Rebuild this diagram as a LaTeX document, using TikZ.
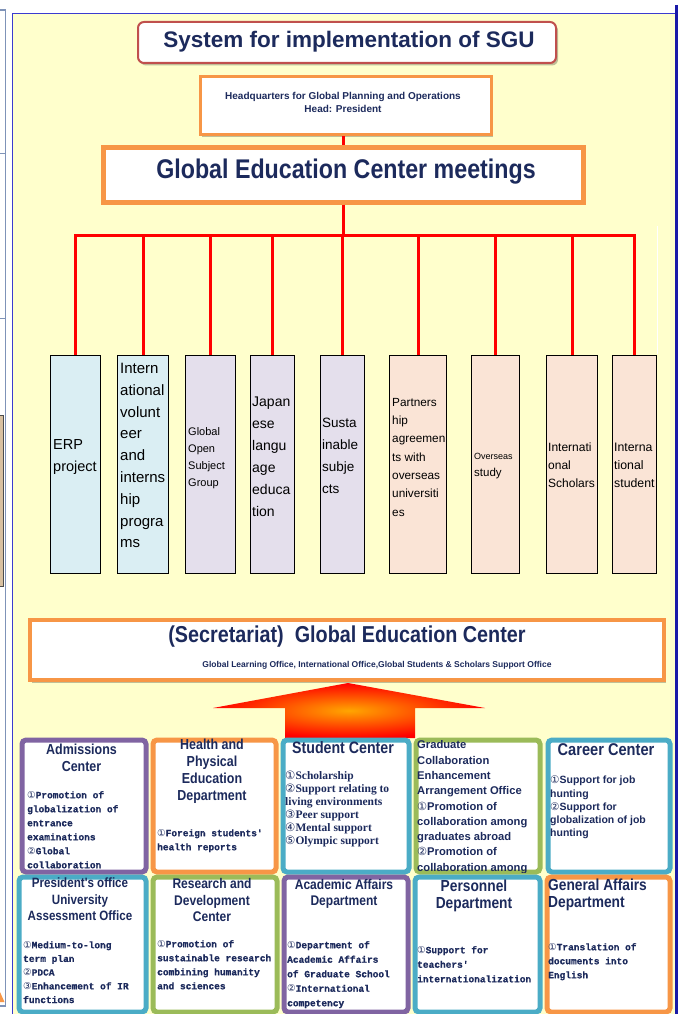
\documentclass[tikz,border=0pt]{standalone}
\usepackage{fontspec}
\setmainfont{Liberation Sans}
\newfontfamily\condsans[FakeStretch=0.86]{Liberation Sans}
\newfontfamily\monob[FakeBold=0.8]{Liberation Mono}
\newfontfamily\serifb{Liberation Serif}
\newfontfamily\symf{DejaVu Sans}
\usetikzlibrary{shadows,calc}

\definecolor{navy}{HTML}{1C2A5C}
\definecolor{panel}{HTML}{FFFFCC}
\definecolor{borange}{HTML}{F79646}
\definecolor{bpurple}{HTML}{8064A2}
\definecolor{bteal}{HTML}{4BACC6}
\definecolor{bgreen}{HTML}{9BBB59}
\definecolor{titlered}{HTML}{C0504D}
\definecolor{fillblue}{HTML}{DAEEF3}
\definecolor{filllav}{HTML}{E4DFEC}
\definecolor{fillpeach}{HTML}{FAE4D6}
\definecolor{frameblue}{HTML}{3B3BD0}
\definecolor{framenavy}{HTML}{1A1AA8}
\definecolor{stripgrey}{HTML}{7F93B8}
\definecolor{striptan}{HTML}{D8C0A0}

\newcommand\colf[2]{\fontsize{#1}{#2}\selectfont}
\newcommand\tfont[2]{\condsans\bfseries\fontsize{#1}{#2}\selectfont}
\newcommand\mfont[2]{\monob\bfseries\fontsize{#1}{#2}\selectfont}
\newcommand\cnum[1]{{\symf\mdseries #1}}

\begin{document}
\begin{tikzpicture}[x=1pt,y=-1pt,
  redline/.style={draw=red, line width=3pt},
  colbox/.style={draw=black, line width=1.3pt, anchor=north west, inner sep=0pt, minimum height=218},
  coltext/.style={anchor=north west, align=left, inner sep=0pt, text=black},
  unitbox/.style={draw=#1, line width=5pt, rounded corners=4pt, fill=white, anchor=north west, inner sep=0pt},
  ttl/.style={inner sep=0pt, text=navy, align=center, anchor=north},
  body/.style={inner sep=0pt, text=navy, align=left, anchor=north west},
  softshadow/.style={drop shadow={shadow xshift=2pt, shadow yshift=-2.5pt, fill=black, opacity=0.25}},
]
\useasboundingbox (0,0) rectangle (680,1014);
\fill[white] (0,0) rectangle (680,1014);

% neighbouring panel edge on the left
\draw[stripgrey, line width=1.5pt] (0,10) -- (5.5,10) -- (5.5,1006) -- (0,1006);
\draw[stripgrey, line width=0.8pt] (0,153) -- (5.5,153) (0,318) -- (5.5,318);
\filldraw[fill=striptan, draw=black!70, line width=0.8pt] (-1,415) rectangle (3,586);
\fill[borange] (0,992) -- (4.5,1002) -- (0,1002) -- cycle;

% yellow panel
\fill[panel] (12,14) rectangle (675,1014);
\draw[frameblue, line width=1pt] (12,1014) -- (12,14) -- (675,14);
\draw[framenavy, line width=2.2pt] (676.5,5) -- (676.5,1014);
\draw[white, line width=1pt] (657,226) -- (657,354);

% heading
\node[draw=titlered, line width=2pt, rounded corners=6pt, fill=white, anchor=north west,
      minimum width=418, minimum height=41, inner sep=0pt, softshadow] (title) at (137,21) {};
\node[text=navy, font=\bfseries\fontsize{22.5}{26}\selectfont, inner sep=0pt] (titlet) at (349,42) {System for implementation of SGU};

% headquarters
\node[draw=borange, line width=3pt, fill=white, anchor=north west, minimum width=291, minimum height=58,
      inner sep=0pt, softshadow] (hq) at (198.5,75.5) {};
\node[text=navy, font=\bfseries\fontsize{10}{13}\selectfont, align=center, inner sep=0pt, anchor=north] (hqt) at (343,92.5)
  {Headquarters for Global Planning and Operations\\Head: President};

% meetings
\node[draw=borange, line width=5pt, fill=white, anchor=north west, minimum width=480, minimum height=55,
      inner sep=0pt, softshadow] (gec) at (100.5,144.5) {};
\node[text=navy, font=\tfont{27}{30}, inner sep=0pt] (gect) at (346,172) {Global Education Center meetings};

% project columns
\node[colbox, fill=fillblue, minimum width=50] (erp)  at (50,355) {};
\node[colbox, fill=fillblue, minimum width=51] (ivol) at (117,355) {};
\node[colbox, fill=filllav,  minimum width=50] (gos)  at (185,355) {};
\node[colbox, fill=filllav,  minimum width=44] (jle)  at (250,355) {};
\node[colbox, fill=filllav,  minimum width=44] (sus)  at (320,355) {};
\node[colbox, fill=fillpeach, minimum width=57] (pau) at (389,355) {};
\node[colbox, fill=fillpeach, minimum width=48] (ovs) at (471,355) {};
\node[colbox, fill=fillpeach, minimum width=51] (isch) at (546,355) {};
\node[colbox, fill=fillpeach, minimum width=44] (istu) at (612,355) {};

% red connectors
\coordinate (bar) at (343,235);
\draw[redline] (hq.south -| bar) -- (gec.north -| bar);
\draw[redline] (gec.south -| bar) -- (bar);
\draw[redline, line cap=rect] (erp.north |- bar) -- (istu.north |- bar);
\foreach \b in {erp,ivol,gos,jle,sus,pau,ovs,isch,istu}
  \draw[redline] (\b.north |- bar) -- (\b.north);

% column labels
\node[coltext, font=\colf{14.5}{22}] (erpt) at (53,439) {ERP\\project};
\node[coltext, font=\colf{15}{21.8}] (ivolt) at (120,363) {Intern\\ational\\volunt\\eer\\and\\interns\\hip\\progra\\ms};
\node[coltext, font=\colf{11}{17}] (gost) at (188,427.6) {Global\\Open\\Subject\\Group};
\node[coltext, font=\colf{14}{22}] (jlet) at (252,396.4) {Japan\\ese\\langu\\age\\educa\\tion};
\node[coltext, font=\colf{13.5}{22}] (sust) at (322,417.6) {Susta\\inable\\subje\\cts};
\node[coltext, font=\colf{11.8}{18.3}] (paut) at (392,398) {Partners\\hip\\agreemen\\ts with\\overseas\\universiti\\es};
\node[coltext, font=\colf{9}{11}] (ovsa) at (474,453.4) {Overseas};
\node[coltext, font=\colf{11.5}{14}] (ovsb) at (474,468.4) {study};
\node[coltext, font=\colf{12}{18}] (ischt) at (548,443) {Internati\\onal\\Scholars};
\node[coltext, font=\colf{12.3}{18}] (istut) at (614,443) {Interna\\tional\\student};

% secretariat
\node[draw=borange, line width=4pt, fill=white, anchor=north west, minimum width=634, minimum height=60,
      inner sep=0pt, softshadow] (sec) at (28,618) {};
\node[text=navy, font=\tfont{23}{26}, inner sep=0pt] (sect) at (347,637) {(Secretariat)\ \ Global Education Center};
\node[text=navy, font=\bfseries\fontsize{8.5}{10}\selectfont, inner sep=0pt] (secs) at (377,665)
  {Global Learning Office, International Office,Global Students \& Scholars Support Office};

% upward arrow
\shade[inner color=orange!70!yellow, outer color=red]
  (348,683) -- (485,708) -- (415,708) -- (415,738) -- (285,738) -- (285,708) -- (213,708) -- cycle;

% first row of units
\node[unitbox=bpurple, minimum width=124, minimum height=132] (adm) at (19.5,737.5) {};
\node[unitbox=borange, minimum width=123, minimum height=132] (hpe) at (150.5,737.5) {};
\node[unitbox=bteal,   minimum width=126, minimum height=132] (stc) at (280.5,737.5) {};
\node[unitbox=bgreen,  minimum width=124, minimum height=132] (gce) at (413.5,737.5) {};
\node[unitbox=bteal,   minimum width=122, minimum height=132] (car) at (545.5,737.5) {};

\node[ttl, font=\tfont{14.5}{17}] (admt) at (81.5,744.2) {Admissions\\Center};
\begin{scope}
  \clip ($(adm.north west)+(2.5,2.5)$) rectangle ($(adm.south east)+(-2.5,-2.5)$);
  \node[body, font=\mfont{9.5}{14}] (admb) at (27,791)
    {\cnum{①}Promotion of\\globalization of\\entrance\\examinations\\\cnum{②}Global\\collaboration};
\end{scope}

\node[ttl, font=\tfont{14.5}{17}] (hpet) at (212,739.2) {Health and\\Physical\\Education\\Department};
\node[body, font=\mfont{9.5}{14}] (hpeb) at (157,829) {\cnum{①}Foreign students'\\health reports};

\node[ttl, font=\tfont{16.5}{19}] (stct) at (343,741.4) {Student Center};
\node[body, font=\serifb\bfseries\fontsize{11.5}{13}\selectfont] (stcb) at (285,770.5)
  {\cnum{①}Scholarship\\\cnum{②}Support relating to\\living environments\\\cnum{③}Peer support\\\cnum{④}Mental support\\\cnum{⑤}Olympic support};

\begin{scope}
  \clip ($(gce.north west)+(2.5,2.5)$) rectangle ($(gce.south east)+(-2.5,-2.5)$);
  \node[body, font=\bfseries\fontsize{11.2}{15.3}\selectfont] (gcet) at (417,740.5)
    {Graduate\\Collaboration\\Enhancement\\Arrangement Office\\\cnum{①}Promotion of\\collaboration among\\graduates abroad\\\cnum{②}Promotion of\\collaboration among};
\end{scope}

\node[ttl, font=\tfont{17}{20}] (cart) at (606,743.2) {Career Center};
\node[body, font=\bfseries\fontsize{10.5}{13.3}\selectfont] (carb) at (550,775.8)
  {\cnum{①}Support for job\\hunting\\\cnum{②}Support for\\globalization of job\\hunting};

% second row of units
\node[unitbox=bteal,   minimum width=127, minimum height=135] (pre) at (16.5,874.5) {};
\node[unitbox=bgreen,  minimum width=124, minimum height=135] (rdc) at (150.5,874.5) {};
\node[unitbox=bpurple, minimum width=124, minimum height=135] (aad) at (281.5,874.5) {};
\node[unitbox=bteal,   minimum width=125, minimum height=135] (per) at (412.5,874.5) {};
\node[unitbox=borange, minimum width=123, minimum height=135] (gad) at (544.5,874.5) {};

\node[ttl, font=\tfont{13.5}{16.5}] (pret) at (80,877.6) {President's office\\University\\Assessment Office};
\node[body, font=\mfont{9.5}{13.7}] (preb) at (23,941)
  {\cnum{①}Medium-to-long\\term plan\\\cnum{②}PDCA\\\cnum{③}Enhancement of IR\\functions};

\node[ttl, font=\tfont{14}{16.5}] (rdct) at (212,878.4) {Research and\\Development\\Center};
\node[body, font=\mfont{9.5}{14}] (rdcb) at (157,940)
  {\cnum{①}Promotion of\\sustainable research\\combining humanity\\and sciences};

\node[ttl, font=\tfont{14}{16}] (aadt) at (344,879.4) {Academic Affairs\\Department};
\node[body, font=\mfont{9.5}{14.5}] (aadb) at (287,941)
  {\cnum{①}Department of\\Academic Affairs\\of Graduate School\\\cnum{②}International\\competency};

\node[ttl, font=\tfont{16}{17}] (pert) at (474,879.6) {Personnel\\Department};
\node[body, font=\mfont{9.5}{14.5}] (perb) at (417,946)
  {\cnum{①}Support for\\teachers'\\internationalization};

\node[body, text=navy, font=\tfont{16}{17}] (gadt) at (548,878.6) {General Affairs\\Department};
\node[body, font=\mfont{9.5}{14}] (gadb) at (548,943)
  {\cnum{①}Translation of\\documents into\\English};
\end{tikzpicture}
\end{document}
